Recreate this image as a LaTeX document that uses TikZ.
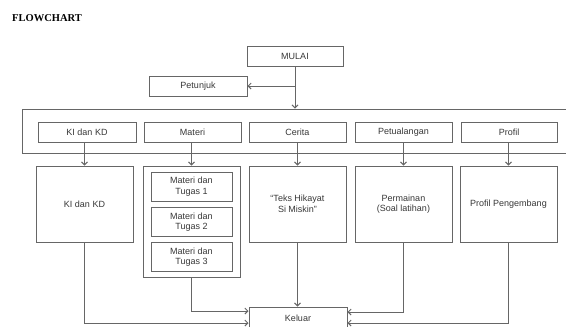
\documentclass[tikz,border=0pt]{standalone}
\usepackage{fontspec}
\setmainfont{Liberation Sans}
\newfontfamily\titlefont{Liberation Serif}
\usetikzlibrary{arrows.meta}
\definecolor{ln}{HTML}{666666}
\definecolor{tx}{HTML}{383838}
\tikzset{
  box/.style={draw=ln, line width=1pt, rectangle, inner sep=1pt, align=center,
    text=tx, font=\fontsize{9}{10.5}\selectfont},
  conn/.style={draw=ln, line width=0.9pt, -{Straight Barb[length=3pt,width=6pt]}},
  plain/.style={draw=ln, line width=0.9pt}
}
\begin{document}
\begin{tikzpicture}[x=1pt,y=-1pt]
\useasboundingbox[fill=white] (0,0) rectangle (566,327);
\node[font=\titlefont\bfseries\fontsize{10.5}{12}\selectfont, anchor=west, text=black, inner sep=0pt] (title) at (12,18) {FLOWCHART};
% top
\node[box, minimum width=96pt, minimum height=20pt] (mulai) at (295,56) {MULAI};
\node[box, minimum width=98pt, minimum height=20pt] (petunjuk) at (198,86) {Petunjuk};
% menu container (right side runs off the page)
\node[box, minimum width=548pt, minimum height=44pt] (menu) at (296,131) {};
\coordinate (split) at (mulai.south |- petunjuk.east);
% menu items
\node[box, minimum width=98pt, minimum height=20pt] (m1) at (87,132) {KI dan KD};
\node[box, minimum width=97pt, minimum height=20pt] (m2) at (192.5,132) {Materi};
\node[box, minimum width=97pt, minimum height=20pt] (m3) at (297.5,132) {Cerita};
\node[box, minimum width=97pt, minimum height=20pt] (m4) at (403.5,132) {Petualangan};
\node[box, minimum width=96pt, minimum height=20pt] (m5) at (509,132) {Profil};
% content boxes
\node[box, minimum width=97pt, minimum height=76pt] (c1) at (84.5,204) {KI dan KD};
\node[box, minimum width=97pt, minimum height=111pt] (c2) at (191.5,221.5) {};
\node[box, minimum width=81pt, minimum height=29pt] (t1) at (191.5,186.5) {Materi dan\\Tugas 1};
\node[box, minimum width=81pt, minimum height=29pt] (t2) at (191.5,222) {Materi dan\\Tugas 2};
\node[box, minimum width=81pt, minimum height=29pt] (t3) at (191.5,257) {Materi dan\\Tugas 3};
\node[box, minimum width=97pt, minimum height=76pt] (c3) at (297.5,204) {``Teks Hikayat\\Si Miskin''};
\node[box, minimum width=97pt, minimum height=76pt] (c4) at (403.5,204) {Permainan\\(Soal latihan)};
\node[box, minimum width=97pt, minimum height=76pt] (c5) at (508.5,204) {Profil Pengembang};
% exit
\node[box, minimum width=98pt, minimum height=22pt] (keluar) at (298,318) {Keluar};
% connectors
\draw[conn] (mulai.south) -- (mulai.south |- menu.north);
\draw[conn] (split) -- (petunjuk.east);
\draw[conn] (m1.south -| c1.north) -- (c1.north);
\draw[conn] (m2.south -| c2.north) -- (c2.north);
\draw[conn] (m3.south) -- (c3.north);
\draw[conn] (m4.south) -- (c4.north);
\draw[conn] (m5.south -| c5.north) -- (c5.north);
\draw[conn] (c1.south) |- ([yshift=-5pt]keluar.west);
\draw[conn] (c2.south) |- ([yshift=7pt]keluar.west);
\draw[conn] (c3.south) -- (c3.south |- keluar.north);
\draw[conn] (c4.south) |- ([yshift=6pt]keluar.east);
\draw[conn] (c5.south) |- ([yshift=-5pt]keluar.east);
\end{tikzpicture}
\end{document}
